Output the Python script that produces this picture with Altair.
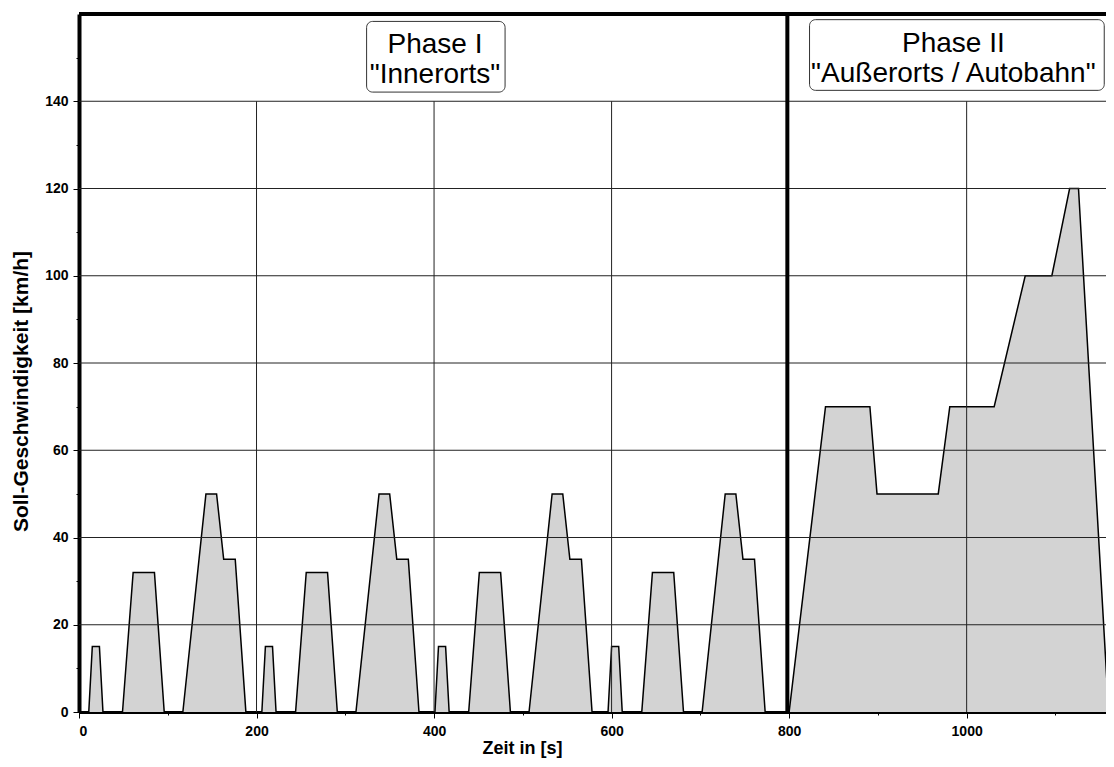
import altair as alt
import pandas as pd

# --- data (NEFZ driving cycle) ---
time = [0, 11, 15, 23, 27, 49, 61, 85, 96, 117, 143, 155, 163, 176, 188,
        195, 206, 210, 218, 222, 244, 256, 280, 291, 312, 338, 350, 358, 371, 383,
        390, 401, 405, 413, 417, 439, 451, 475, 486, 507, 533, 545, 553, 566, 578,
        585, 596, 600, 608, 612, 634, 646, 670, 681, 702, 728, 740, 748, 761, 773,
        800, 841, 891, 899, 968, 981, 1031, 1066, 1096, 1116, 1126, 1160, 1166]
speed = [0, 0, 15, 15, 0, 0, 32, 32, 0, 0, 50, 50, 35, 35, 0,
         0, 0, 15, 15, 0, 0, 32, 32, 0, 0, 50, 50, 35, 35, 0,
         0, 0, 15, 15, 0, 0, 32, 32, 0, 0, 50, 50, 35, 35, 0,
         0, 0, 15, 15, 0, 0, 32, 32, 0, 0, 50, 50, 35, 35, 0,
         0, 70, 70, 50, 50, 70, 70, 100, 100, 120, 120, 0, 0]

x_max = 1166
y_max = 160
x_major = [0, 200, 400, 600, 800, 1000]
x_minor = [100, 300, 500, 700, 900, 1100]
y_major = [0, 20, 40, 60, 80, 100, 120, 140]
y_minor = [10, 30, 50, 70, 90, 110, 130, 150]
x_grid = [200, 400, 600, 1000]
y_grid = [20, 40, 60, 80, 100, 120, 140]
grid_top = 140
phase_boundary = 798

box_labels = ["Phase I", "Phase II"]
box_x0 = [324, 823]
box_x1 = [480, 1155]
box_y0 = [142.1, 142.5]
box_y1 = [158.3, 158.7]

text_lines = ["Phase I", "\"Innerorts\"", "Phase II", "\"Außerorts / Autobahn\""]
text_x = [401, 401, 985, 985]
text_y = [151.0, 144.1, 151.3, 144.4]

FONT = "Liberation Sans"

df = pd.DataFrame({"t": time, "v": speed})
xs = alt.Scale(domain=[0, x_max], nice=False, zero=False)
ys = alt.Scale(domain=[0, y_max], nice=False)

area = alt.Chart(df).mark_area(
    color="#d3d3d3", fill="#d3d3d3", opacity=1, fillOpacity=1,
    line={"color": "black", "strokeWidth": 1.5}
).encode(
    x=alt.X("t:Q", scale=xs, axis=alt.Axis(
        values=x_major, grid=False, title="Zeit in [s]", orient="bottom", format="d",
        tickSize=6, domainWidth=3, domainColor="black", tickColor="black", labelPadding=6,
        titleX=443, titleY=36, titleBaseline="middle", titleAlign="center",
    )),
    y=alt.Y("v:Q", scale=ys, axis=alt.Axis(
        values=y_major, grid=False, title="Soll-Geschwindigkeit [km/h]", orient="left", format="d",
        tickSize=6, domainWidth=4, domainColor="black", tickColor="black", labelPadding=5,
        titleX=-58, titleY=377, titleBaseline="middle", titleAlign="center", titleFontSize=21,
    )),
)

# horizontal grid lines; this layer also carries the minor tick axes
hgrid = alt.Chart(pd.DataFrame({"y": y_grid, "x0": [0] * len(y_grid), "x1": [x_max] * len(y_grid)})).mark_rule(
    color="#222", strokeWidth=1
).encode(
    y=alt.Y("y:Q", scale=ys, axis=alt.Axis(values=y_minor, orient="left", labels=False, domain=False,
                                           grid=False, tickSize=3, tickColor="black", title=None)),
    x=alt.X("x0:Q", scale=xs, axis=alt.Axis(values=x_minor, orient="bottom", labels=False, domain=False,
                                            grid=False, tickSize=3, tickColor="black", title=None)),
    x2="x1:Q",
)

vgrid = alt.Chart(pd.DataFrame({"x": x_grid, "y0": [0] * len(x_grid), "y1": [grid_top] * len(x_grid)})).mark_rule(
    color="#222", strokeWidth=1
).encode(x=alt.X("x:Q", scale=xs, axis=None), y=alt.Y("y0:Q", scale=ys, axis=None), y2="y1:Q")

boundary = alt.Chart(pd.DataFrame({"x": [phase_boundary], "y0": [0], "y1": [y_max]})).mark_rule(
    color="black", strokeWidth=4
).encode(x=alt.X("x:Q", scale=xs, axis=None), y=alt.Y("y0:Q", scale=ys, axis=None), y2="y1:Q")

top = alt.Chart(pd.DataFrame({"y": [y_max], "x0": [0], "x1": [x_max]})).mark_rule(
    color="black", strokeWidth=4
).encode(y=alt.Y("y:Q", scale=ys, axis=None), x=alt.X("x0:Q", scale=xs, axis=None), x2="x1:Q")

boxes = alt.Chart(pd.DataFrame({"label": box_labels, "x0": box_x0, "x1": box_x1, "y0": box_y0, "y1": box_y1})).mark_rect(
    fill="white", stroke="#333", strokeWidth=1, cornerRadius=6
).encode(x=alt.X("x0:Q", scale=xs, axis=None), x2="x1:Q", y=alt.Y("y0:Q", scale=ys, axis=None), y2="y1:Q")

texts = alt.Chart(pd.DataFrame({"label": text_lines, "x": text_x, "y": text_y})).mark_text(
    font=FONT, fontSize=28, color="black", align="center", baseline="alphabetic"
).encode(x=alt.X("x:Q", scale=xs, axis=None), y=alt.Y("y:Q", scale=ys, axis=None), text="label:N")

chart = alt.layer(area, hgrid, vgrid, boundary, top, boxes, texts).resolve_axis(
    x="independent", y="independent"
).properties(
    width=1035, height=698,
    autosize=alt.AutoSizeParams(type="none"),
    padding={"left": 71, "top": 6, "right": -8, "bottom": 47},
).configure_view(stroke=None).configure_axis(
    labelFont=FONT, labelFontSize=14, labelFontWeight="bold", labelColor="black",
    titleFont=FONT, titleFontSize=18, titleFontWeight="bold", titleColor="black",
)

chart.save("out.html", embed_options={"renderer": "svg", "actions": False})
